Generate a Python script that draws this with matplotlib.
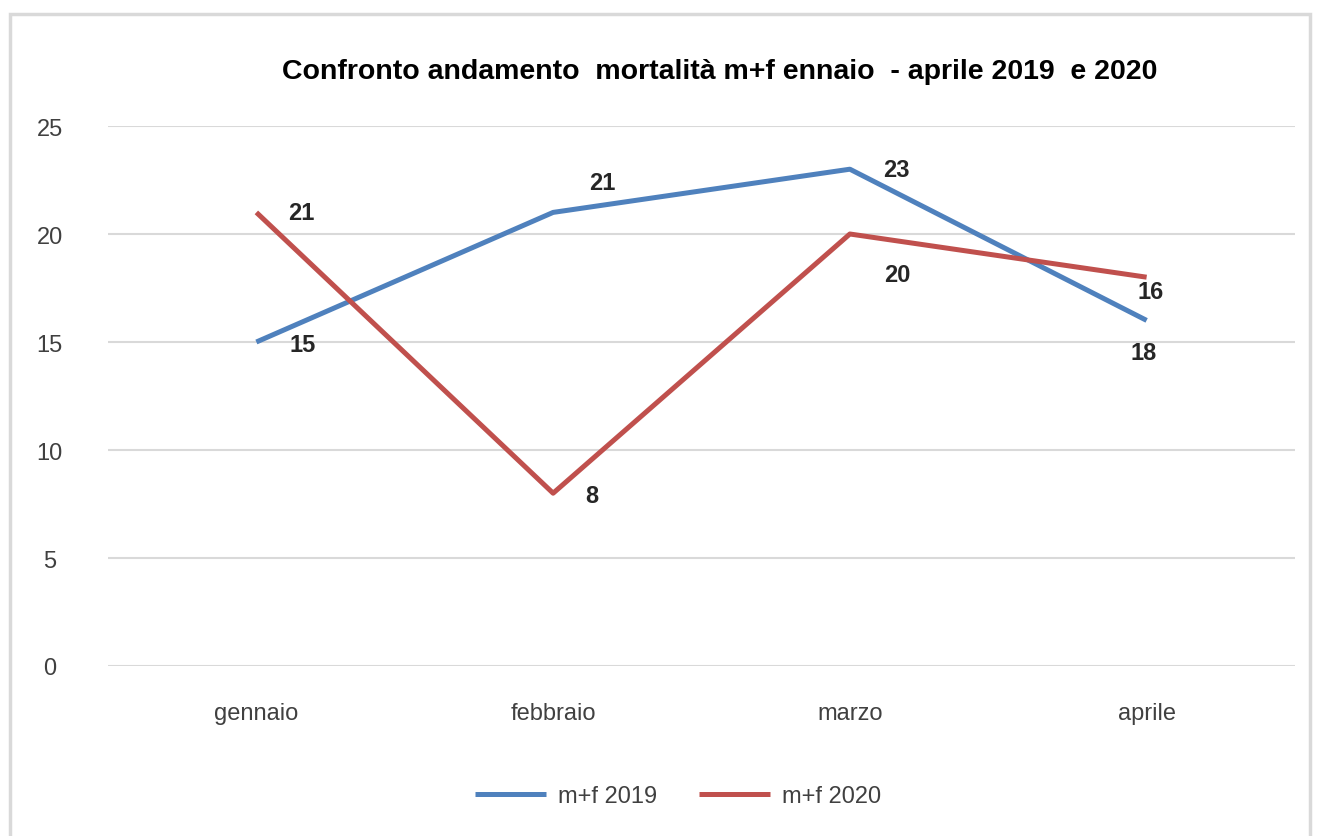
import matplotlib
matplotlib.use("Agg")
import matplotlib.pyplot as plt
from matplotlib.patches import Rectangle

mesi = ["gennaio", "febbraio", "marzo", "aprile"]
mf_2019 = [15, 21, 23, 16]
mf_2020 = [21, 8, 20, 18]
# label text as shown in the picture (aprile labels appear swapped)
lab_2019 = ["15", "21", "23", "16"]
lab_2020 = ["21", "8", "20", "18"]

plt.rcParams['font.family'] = ['Liberation Sans', 'DejaVu Sans']

fig = plt.figure(figsize=(13.21, 8.37), dpi=100)
ax = fig.add_axes([108/1321, 170/837, 1187/1321, 540/837])

# chart border
fig.patches.append(Rectangle((10/1321, -0.01), 1300/1321, 822/837 + 0.01,
                             transform=fig.transFigure, fill=False,
                             edgecolor="#d9d9d9", linewidth=2.5))

x = range(len(mesi))
blu = "#4f81bd"
rosso = "#c0504d"
ax.plot(x, mf_2019, color=blu, lw=3.6, label="m+f 2019", solid_capstyle="butt")
ax.plot(x, mf_2020, color=rosso, lw=3.6, label="m+f 2020", solid_capstyle="butt")

off_2019 = [(46, -2), (49, 30), (47, 0), (4, 29)]
off_2020 = [(45, 0), (39, -2), (47, -40), (-3, -75)]
for i in x:
    ax.annotate(lab_2019[i], (i, mf_2019[i]), xytext=off_2019[i], textcoords="offset pixels",
                ha="center", va="center", fontsize=17, fontweight="bold", color="#262626")
    ax.annotate(lab_2020[i], (i, mf_2020[i]), xytext=off_2020[i], textcoords="offset pixels",
                ha="center", va="center", fontsize=17, fontweight="bold", color="#262626")

ax.set_xlim(-0.5, 3.5)
ax.set_ylim(0, 25)
ax.set_yticks([0, 5, 10, 15, 20, 25])
ax.set_xticks(list(x))
ax.set_xticklabels(mesi)
ax.grid(axis="y", color="#d9d9d9", lw=1.5)
ax.set_axisbelow(True)
for s in ax.spines.values():
    s.set_visible(False)
ax.tick_params(length=0, labelsize=17, colors="#404040")
ax.tick_params(axis="y", pad=42)
ax.tick_params(axis="x", pad=26)
for t in ax.get_yticklabels():
    t.set_horizontalalignment("center")

fig.text(720/1321, 1 - 72/837, "Confronto andamento  mortalità m+f ennaio  - aprile 2019  e 2020",
         ha="center", va="center", fontsize=20.5, fontweight="bold", color="black")

fig.legend(loc="center", bbox_to_anchor=(678/1321, 1 - 797/837), ncol=2, frameon=False,
           fontsize=17, handlelength=3.0, handletextpad=0.5, columnspacing=1.8,
           labelcolor="#404040")

fig.savefig("out.png", dpi=100)
